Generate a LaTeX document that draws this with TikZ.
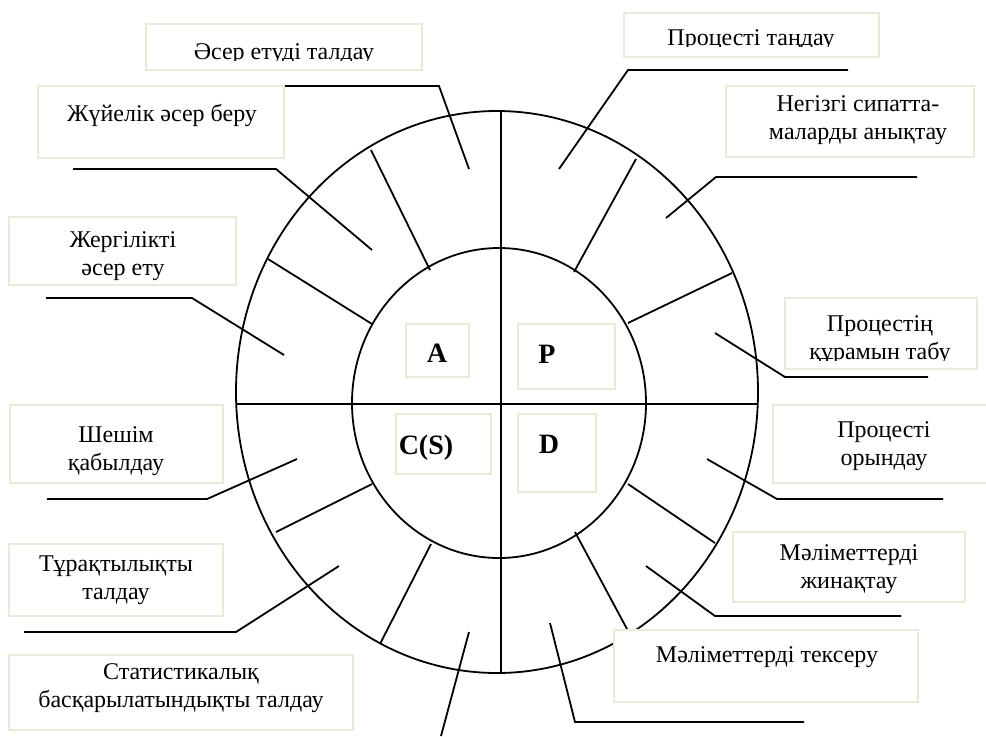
\documentclass[tikz,border=0pt]{standalone}
\usepackage{fontspec}
\setmainfont{Liberation Serif}
\usetikzlibrary{positioning}
\definecolor{frameline}{HTML}{ECE9D8}

\begin{document}
\begin{tikzpicture}[x=0.5pt, y=-0.5pt, line width=0.9pt,
    frame/.style={draw=frameline, fill=white, line width=0.9pt},
    lbl/.style={font=\fontsize{12}{14}\selectfont, align=center, anchor=base, inner sep=0pt},
    key/.style={font=\fontsize{14}{16}\selectfont\bfseries, anchor=base, inner sep=0pt}]
  \useasboundingbox (0,0) rectangle (986,736);
  % two rings and the cross
  \draw (497,392) ellipse [x radius=130.5pt, y radius=140.5pt];
  \draw (499,403) ellipse [x radius=73.5pt, y radius=77.5pt];
  \draw (501,111) -- (501,673);
  \draw (236,404) -- (758,404);
  % sector dividers between the rings
  \foreach \xa/\ya/\xb/\yb in {371/150/430/270, 268/259/372/324, 276/532/372/484, 380/644/431/544,
      636/159/574/272, 732/273/628/323, 628/484/715/543, 575/532/627/629}
    \draw (\xa,\ya) -- (\xb,\yb);
  % leaders from the sectors
  \draw (469,169) -- (439,86) -- (207,86);
  \draw (372,250) -- (276,169) -- (73,169);
  \draw (284,355) -- (192,298) -- (46,298);
  \draw (297,459) -- (207,499) -- (47,499);
  \draw (339,566) -- (236,632) -- (24,632);
  \draw (469,632) -- (441,736);
  \draw (559,169) -- (628,70) -- (848,70);
  \draw (666,218) -- (716,177) -- (917,177);
  \draw (715,333) -- (785,377) -- (928,377);
  \draw (707,459) -- (777,499) -- (943,499);
  \draw (646,566) -- (715,616) -- (901,616);
  \draw (550,623) -- (575,722) -- (804,722);
  % text frames
  \foreach \xa/\ya/\xb/\yb in {146/24/422/70, 38/86/284/158, 9/217/236/285, 10/405/223/483,
      9/544/223/616, 9/655/353/730, 624/13/879/57, 726/86/974/157, 785/298/977/369,
      773/405/990/483, 733/532/965/602, 614/630/918/702,
      406/324/469/377, 396/414/491/474, 518/324/615/389, 518/414/596/492}
    \draw[frame] (\xa,\ya) rectangle (\xb,\yb);
  % left half (two-line labels sit on their last baseline)
  \begin{scope}
    \clip (146,24) rectangle (422,60);
    \node[lbl] (aser) at (284,59) {Әсер етуді талдау};
  \end{scope}
  \node[lbl] (juie) at (162,121) {Жүйелік әсер беру};
  \node[lbl] (jergil) at (123,275) {Жергілікті\\әсер ету};
  \node[lbl] (sheshim) at (116,470) {Шешім\\қабылдау};
  \node[lbl] (turaq) at (116,599) {Тұрақтылықты\\талдау};
  \node[lbl] (stat) at (181,707) {Статистикалық\\басқарылатындықты талдау};
  % right half
  \begin{scope}
    \clip (624,13) rectangle (879,46);
    \node[lbl] (tandau) at (751,45) {Процесті таңдау};
  \end{scope}
  \node[lbl] (negiz) at (858,139) {Негізгі сипатта-\\маларды анықтау};
  \begin{scope}
    \clip (785,298) rectangle (977,360);
    \node[lbl] (quram) at (880,359) {Процестің\\құрамын табу};
  \end{scope}
  \node[lbl] (oryndau) at (884,465) {Процесті\\орындау};
  \node[lbl] (jinaq) at (849,588) {Мәліметтерді\\жинақтау};
  \node[lbl] (tekseru) at (767,662) {Мәліметтерді тексеру};
  % quadrant letters
  \node[key] (A) at (437,362) {A};
  \node[key] (P) at (547,363) {P};
  \node[key] (CS) at (426,454) {C(S)};
  \node[key] (D) at (549,453) {D};
\end{tikzpicture}
\end{document}
